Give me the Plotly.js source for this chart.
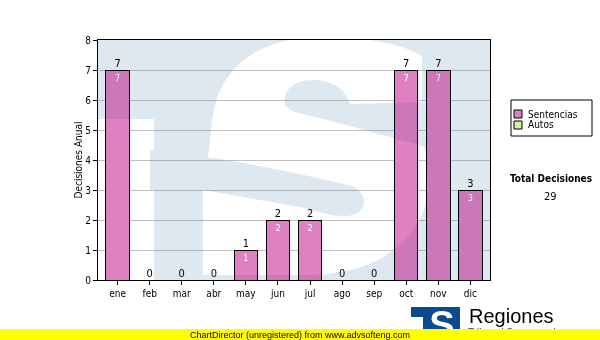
<!DOCTYPE html>
<html>
<head>
<meta charset="utf-8">
<script src="https://cdn.plot.ly/plotly-3.0.1.min.js"></script>
<style>html,body{margin:0;padding:0;background:#fff;}#chart{width:600px;height:340px;}</style>
</head>
<body>
<div id="chart"></div>
<script>
// ---- data ----
const months = ['ene','feb','mar','abr','may','jun','jul','ago','sep','oct','nov','dic'];
const sentencias = [7, 0, 0, 0, 1, 2, 2, 0, 0, 7, 7, 3];
const autos = [0, 0, 0, 0, 0, 0, 0, 0, 0, 0, 0, 0];
const seriesNames = ['Sentencias', 'Autos'];
const seriesColors = ['#df80c0', '#d4ee9c'];
const yTickVals = [0, 1, 2, 3, 4, 5, 6, 7, 8];
const yAxisTitle = 'Decisiones Anual';
const totalLabel = 'Total Decisiones';
const footerText = 'ChartDirector (unregistered) from www.advsofteng.com';
const brandText = 'Regiones';
const subBrandText = 'Tribunal Supremo de Justicia';

const totals = months.map((m, i) => sentencias[i] + autos[i]);
const grandTotal = totals.reduce((a, b) => a + b, 0);

const F = "'DejaVu Sans Condensed', 'DejaVu Sans', sans-serif";
const FA = "'Liberation Sans', Arial, sans-serif";

// ---- watermark (plot-area decoration) ----
function watermark(fill) {
  return `<svg xmlns='http://www.w3.org/2000/svg' width='392' height='240' viewBox='98 40 392 240' preserveAspectRatio='none'>
<defs><mask id='m' maskUnits='userSpaceOnUse' x='0' y='0' width='600' height='340'>
<rect x='0' y='0' width='600' height='340' fill='white'/>
<rect x='90' y='119' width='64' height='170' fill='black'/>
<path fill='black' d='M 422 56 C 398 42, 358 36, 318 37 C 258 38, 217 68, 212 122 C 209 152, 206 172, 203 190 L 203 275 L 310 275 C 380 275, 428 235, 428 185 C 428 162, 425 148, 422 140 Z'/>
<path fill='white' d='M 430 102 L 350 104 C 346 88, 330 80, 312 80 C 293 80, 282 92, 285 104 C 288 112, 300 113, 320 118 L 430 148 Z'/>
<path fill='white' d='M 150 150 L 213 158 C 260 165, 320 178, 352 186 C 366 192, 368 208, 356 214 C 344 219, 325 214, 305 208 L 203 190 L 150 190 Z'/>
</mask></defs>
<rect x='98' y='40' width='392' height='240' fill='${fill}' mask='url(#m)'/>
</svg>`;
}

const logo = `<svg xmlns='http://www.w3.org/2000/svg' width='150' height='40' viewBox='0 0 150 40'>
<rect x='0' y='0' width='49' height='40' fill='#0a4a8e'/>
<rect x='0' y='10' width='12' height='30' fill='white'/>
<text x='31' y='31' text-anchor='middle' font-family='Liberation Sans, Arial' font-weight='bold' font-size='38' fill='white'>S</text>
<text x='57' y='29' font-family='Liberation Sans, Arial' font-size='10' fill='#333'>${subBrandText}</text>
</svg>`;

function svgUri(s) { return 'data:image/svg+xml;charset=utf-8,' + encodeURIComponent(s); }

// px helpers for paper coordinates (plot area: x 98..490, y 40..280)
const px = x => (x - 98) / 392;
const py = y => (280 - y) / 240;

const traces = [
  {
    type: 'bar', name: seriesNames[0], x: months, y: sentencias,
    marker: {color: seriesColors[0], line: {color: '#000', width: 1}},
    text: sentencias.map(v => v ? String(v) : ''),
    textposition: 'inside', insidetextanchor: 'end', constraintext: 'none',
    textfont: {family: F, size: 9, color: '#fff'},
    hoverinfo: 'x+y', showlegend: false
  },
  {
    type: 'bar', name: seriesNames[1], x: months, y: autos,
    marker: {color: seriesColors[1], line: {color: '#000', width: 1}},
    textposition: 'none', showlegend: false
  },
  {
    type: 'scatter', mode: 'text', x: months, y: totals,
    text: totals.map(String), textposition: 'top center',
    textfont: {family: F, size: 11, color: '#000'},
    cliponaxis: false, showlegend: false, hoverinfo: 'skip'
  }
];

// manual legend
const legShapes = [
  {type: 'rect', xref: 'paper', yref: 'paper', x0: px(511), x1: px(592), y0: py(100), y1: py(136),
   line: {color: '#000', width: 1}, fillcolor: '#fff'}
];
const legAnn = [];
seriesNames.forEach((n, i) => {
  const cy = 114 + i * 11;
  legShapes.push({type: 'rect', xref: 'paper', yref: 'paper', x0: px(514), x1: px(522), y0: py(cy + 4), y1: py(cy - 4),
    line: {color: '#000', width: 1}, fillcolor: seriesColors[i]});
  legAnn.push({xref: 'paper', yref: 'paper', x: px(526), y: py(cy), xanchor: 'left', yanchor: 'middle',
    text: n, showarrow: false, font: {family: F, size: 10, color: '#000'}});
});

const layout = {
  width: 600, height: 340,
  margin: {l: 98, r: 110, t: 40, b: 60, pad: 0},
  paper_bgcolor: '#fff', plot_bgcolor: '#fff',
  barmode: 'stack', bargap: 0.27,
  showlegend: false,
  font: {family: F, size: 10, color: '#000'},
  xaxis: {
    type: 'category', showline: true, linecolor: '#000', linewidth: 1, mirror: true,
    ticks: 'outside', ticklen: 4, tickcolor: '#000', showgrid: false,
    tickfont: {family: F, size: 10, color: '#000'}, fixedrange: true
  },
  yaxis: {
    range: [0, 8], tickvals: yTickVals, ticktext: yTickVals.map(String),
    showline: true, linecolor: '#000', linewidth: 1, mirror: true,
    ticks: 'outside', ticklen: 4, tickcolor: '#000',
    showgrid: true, gridcolor: '#c0c0c0', gridwidth: 1, zeroline: false,
    tickfont: {family: F, size: 10, color: '#000'},
    title: {text: yAxisTitle, font: {family: F, size: 10, color: '#000'}, standoff: 0},
    fixedrange: true
  },
  images: [
    {source: svgUri(watermark('rgb(244,249,250)')), xref: 'paper', yref: 'paper', x: 0, y: 1, sizex: 1, sizey: 1,
     xanchor: 'left', yanchor: 'top', sizing: 'stretch', layer: 'below'},
    {source: svgUri(watermark('rgb(232,238,246)')), xref: 'paper', yref: 'paper', x: 0, y: 1, sizex: 1, sizey: 1,
     xanchor: 'left', yanchor: 'top', sizing: 'stretch', layer: 'above'},
    {source: svgUri(logo), xref: 'paper', yref: 'paper', x: px(411), y: py(307), sizex: 150 / 392, sizey: 40 / 240,
     xanchor: 'left', yanchor: 'top', sizing: 'stretch', layer: 'above'}
  ],
  shapes: legShapes.concat([
    {type: 'rect', xref: 'paper', yref: 'paper', x0: px(0), x1: px(600), y0: py(329), y1: py(341),
     line: {width: 0}, fillcolor: '#ffff00', layer: 'above'}
  ]),
  annotations: legAnn.concat([
    {xref: 'paper', yref: 'paper', x: px(551), y: py(178), xanchor: 'center', yanchor: 'middle',
     text: '<b>' + totalLabel + '</b>', showarrow: false, font: {family: F, size: 10, color: '#000'}},
    {xref: 'paper', yref: 'paper', x: px(550), y: py(196), xanchor: 'center', yanchor: 'middle',
     text: String(grandTotal), showarrow: false, font: {family: F, size: 11, color: '#000'}},
    {xref: 'paper', yref: 'paper', x: px(300), y: py(334.5), xanchor: 'center', yanchor: 'middle',
     text: footerText, showarrow: false, font: {family: FA, size: 9, color: '#000'}},
    {xref: 'paper', yref: 'paper', x: px(467), y: py(316), xanchor: 'left', yanchor: 'middle',
     text: brandText, showarrow: false, font: {family: FA, size: 20, color: '#000'}}
  ])
};

Plotly.newPlot('chart', traces, layout, {displayModeBar: false, staticPlot: true}).then(gd => {
  const imgs = gd.querySelectorAll('.layer-above .imagelayer image');
  if (imgs.length) imgs[0].style.mixBlendMode = 'multiply';
});
</script>
</body>
</html>
